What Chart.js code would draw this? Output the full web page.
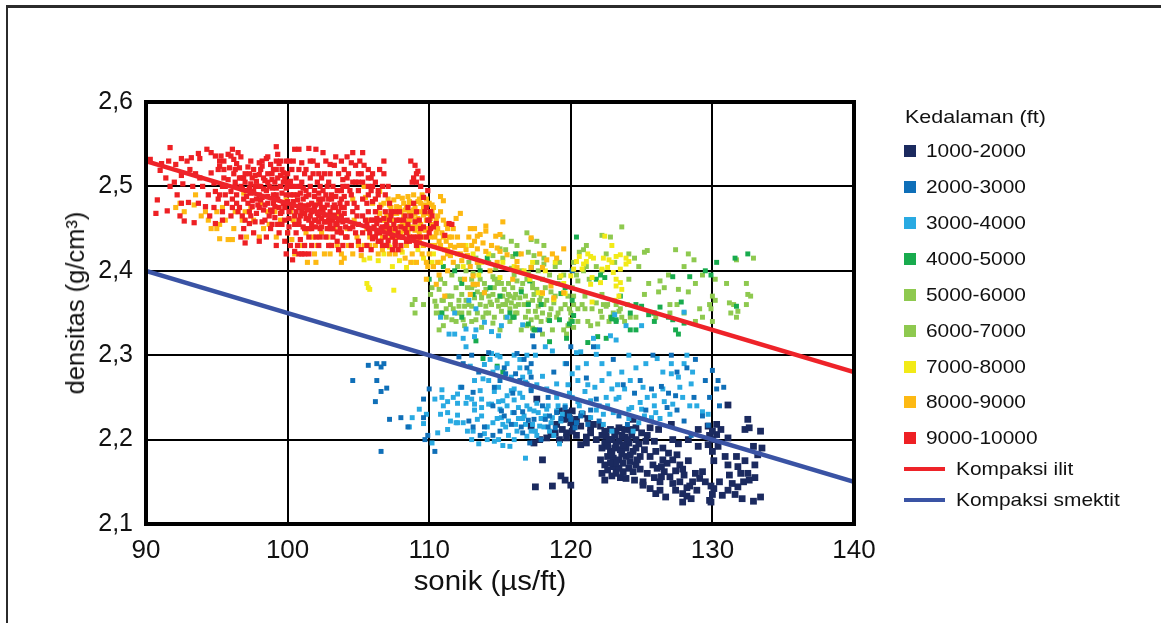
<!DOCTYPE html>
<html>
<head>
<meta charset="utf-8">
<title>Densitas vs sonik</title>
<script src="https://cdn.jsdelivr.net/npm/chart.js@4"></script>
<style>
  html, body { margin: 0; padding: 0; background: #fff; overflow: hidden; }
  #wrap { position: relative; width: 1161px; height: 623px; font-family: "Liberation Sans", Arial, sans-serif; color: #111; }
  #frame { position: absolute; left: 6px; top: 5px; right: 0; bottom: 0; border-top: 3px solid #2b2b2b; border-left: 2px solid #2b2b2b; }
  canvas { position: absolute; left: 0; top: 0; }
  .lg { position: absolute; font-size: 19px; line-height: 24px; white-space: nowrap; transform: scaleX(1.1); transform-origin: left center; }
  .sw { position: absolute; }
  .axt { position: absolute; white-space: nowrap; font-size: 27px; line-height: 32px; }
</style>
</head>
<body>
<div id="wrap">
  <div id="frame"></div>
  <canvas id="grafico" width="1161" height="623"></canvas>
  <div class="axt" id="judulX" style="left:490px;top:565px;transform:translateX(-50%) scaleX(1.09)">sonik (µs/ft)</div>
  <div class="axt" id="judulY" style="left:75px;top:303px;font-size:25.5px;transform:translate(-50%,-50%) rotate(-90deg)">densitas (g/cm³)</div>
</div>
<script>
const xTicks = [90, 100, 110, 120, 130, 140];
const yTicks = [2.1, 2.2, 2.3, 2.4, 2.5, 2.6];
const depthLabels = ["1000-2000", "2000-3000", "3000-4000", "4000-5000", "5000-6000", "6000-7000", "7000-8000", "8000-9000", "9000-10000"];
const lineLabels = ["Kompaksi ilit", "Kompaksi smektit"];
const ilitLine = [[90, 2.53], [140, 2.28]];
const smektitLine = [[90, 2.4], [140, 2.15]];

// [sonik, densitas]
const d1000 = [[117.5,2.144],[118.7,2.145],[119.3,2.157],[119.6,2.152],[120,2.146],[118,2.176],[117.4,2.196],[117.8,2.2],[118.3,2.202],[118.6,2.206],[117.2,2.216],[117.6,2.248],[119.2,2.234],[119.7,2.232],[120.1,2.234],[119.5,2.224],[120,2.22],[120.2,2.216],[119.4,2.212],[119.7,2.208],[120.1,2.21],[119.7,2.202],[120.7,2.194],[121.1,2.196],[121.1,2.203],[120.7,2.216],[121.4,2.214],[122.1,2.216],[122.8,2.212],[123.4,2.214],[123.8,2.212],[124.6,2.214],[124.4,2.224],[125.6,2.214],[126.2,2.212],[127.1,2.218],[129,2.212],[129.7,2.216],[130.3,2.218],[130.6,2.212],[130.3,2.206],[131.1,2.202],[131.1,2.241],[132.5,2.224],[132.3,2.212],[132.6,2.214],[133.4,2.21],
[122.5,2.204],[122.9,2.2],[122.4,2.196],[122.2,2.19],[122.8,2.186],[123.1,2.205],[123.4,2.198],[123.1,2.19],[123.5,2.188],[123.8,2.203],[124.1,2.196],[123.9,2.19],[124.4,2.186],[122.6,2.18],[123,2.178],[123.4,2.176],[123.9,2.18],[124.2,2.174],[124.6,2.2],[124.6,2.19],[124.9,2.18],[122.1,2.176],[122.4,2.17],[122.6,2.164],[123,2.168],[123.4,2.166],[123.7,2.162],[124.1,2.166],[124.6,2.17],[122.2,2.16],[122.9,2.157],[123.5,2.155],[124.5,2.152],[125.1,2.15],[125.4,2.16],[125.8,2.17],[126.1,2.166],[126.5,2.176],[126.9,2.184],[126.6,2.162],[127,2.156],[127.4,2.163],[127.7,2.17],[127.9,2.165],[128.3,2.175],[125.4,2.205],[125.9,2.198],[126.5,2.19],[127.2,2.2],[127.6,2.195],[128.3,2.2],[129,2.192],[129.7,2.194],[129.8,2.205],[130,2.186],[130.1,2.175],[125.1,2.146],[125.6,2.142],[126,2.136],[126.3,2.14],[126.7,2.132],[127.4,2.14],[127.9,2.136],[128.2,2.133],[128.5,2.13],[128.9,2.14],[128.6,2.15],[128.8,2.16],[129.1,2.154],[129.3,2.162],[129.5,2.15],[129.9,2.145],[130.1,2.142],[130,2.135],[129.8,2.128],[129.9,2.126],[130.7,2.134],[131.1,2.14],[131.4,2.148],[131.6,2.135],[132.1,2.13],[132.9,2.127],[133.4,2.132],[131.1,2.17],[131.8,2.168],[132,2.16],[131.2,2.158],[132.2,2.15],[132.6,2.152],[133,2.155],[132.5,2.16],[132.3,2.175],[133,2.17],[133.2,2.182],[132.9,2.192],[133.5,2.19],[131.7,2.18],[130.9,2.18],[128.2,2.143],[126.3,2.15],[127.9,2.126],[128.4,2.145],
[122.7,2.2],[123.2,2.195],[123.6,2.205],[124,2.2],[124.3,2.205],[122.6,2.192],[123.7,2.194],[124.8,2.195],[122.9,2.183],[123.6,2.183],[124.2,2.182],[124.7,2.176],[123.2,2.172],[123.7,2.172],[122.8,2.172],[124.4,2.162],[124.9,2.165],[123.2,2.16],[123.9,2.154],[122.4,2.152],[122.2,2.205],[121.8,2.2],[121.4,2.208],[120.4,2.224],[120.8,2.23],[121.2,2.225],[121.6,2.218],[122.4,2.21],[123.2,2.21],[124.2,2.212],[125,2.208],[125.3,2.198],[125.2,2.188],[125.6,2.18],[126,2.186],[126.8,2.172],[126.4,2.168],[127.2,2.176],[127.5,2.182],[125.9,2.155],[126.4,2.156],[127.2,2.148],[127.7,2.15],[128,2.158],[119.9,2.225],[119,2.218],[118.9,2.208],[119.2,2.2],[120.4,2.205],[130,2.21],[130,2.2],[130.4,2.192],[131.8,2.144],[130.5,2.15]];

const d2000 = [[105.7,2.288],[106.3,2.29],[106.6,2.286],[106.8,2.29],[104.6,2.27],[106.3,2.27],[106.6,2.257],[107,2.261],[106.2,2.245],[109.6,2.248],[110,2.26],[109.6,2.226],[107.2,2.224],[108,2.226],[108.5,2.215],[106.6,2.186],[109.9,2.205],[109.7,2.2],[110.4,2.186],[112.1,2.298],[112.4,2.29],[113,2.3],[113.5,2.28],[112.3,2.262],[113.1,2.256],[114.2,2.303],[115.4,2.278],[116.2,2.302],[117.2,2.29],[116.9,2.266],[116.1,2.278],[117.4,2.31],[115.9,2.255],[116.4,2.27],[114.5,2.24],[115.1,2.234],[116.6,2.233],[118,2.24],[118.8,2.28],[119.7,2.29],[120,2.31],[121.6,2.31],[123,2.295],[121.1,2.273],[123.7,2.265],[124.9,2.27],[125.7,2.26],[126.4,2.263],[126.9,2.255],[127.5,2.28],[128.8,2.295],[127.1,2.3],[128.2,2.285],[129.5,2.27],[129.8,2.25],[130,2.282],[130.4,2.27],[130.5,2.24],[130.8,2.262],[130.3,2.26],[129.3,2.228],[129.7,2.217],[128.5,2.205],[126.8,2.238],[127.5,2.235],[128,2.222],[125.3,2.235],[120,2.224],[120.4,2.22],[119,2.232],[118.2,2.224],[118.4,2.215],[117.9,2.2],[116,2.232],[115,2.21],[114.5,2.205],[113.6,2.205],[113.9,2.215],[115.8,2.218],[116.6,2.208],[117.1,2.196],[117.4,2.224],[119.9,2.228],[120.3,2.214],[121.2,2.218],[122,2.222],[118.9,2.214],[124,2.218],[120.1,2.4],[125.8,2.3],[117.3,2.323],[117.8,2.33],
[115.3,2.285],[115,2.27],[114.6,2.262],[116.9,2.285],[116.7,2.295],[117.2,2.274],[117.2,2.258],[118.4,2.25],[118.5,2.228],[119.3,2.225],[119.6,2.238],[120.7,2.228],[121.4,2.235],[117,2.223],[116.5,2.215],[115.3,2.228],[113.1,2.215],[112.8,2.222],[128.7,2.25],[127.4,2.252],[124.5,2.255],[123.4,2.228],[121.8,2.248]];

const d3000 = [[110.9,2.259],[110.4,2.248],[110.9,2.25],[111.3,2.245],[111.7,2.25],[112,2.243],[112.6,2.243],[113.2,2.242],[110.8,2.23],[111,2.24],[111.3,2.232],[112,2.229],[112,2.22],[112.4,2.22],[113,2.248],[113.7,2.238],[114.2,2.242],[114.5,2.22],[113.4,2.224],[114.1,2.215],[113.9,2.207],[115,2.236],[115.5,2.24],[116,2.247],[116.3,2.238],[116.9,2.24],[117.6,2.243],[118.3,2.236],[114.4,2.242],[114.6,2.257],[115.2,2.246],[115.5,2.252],[116,2.26],[116.6,2.25],[115.1,2.226],[115.6,2.222],[116.3,2.225],[116.8,2.218],[117.2,2.21],[115.6,2.205],[116.2,2.21],[117.9,2.225],[118.1,2.215],[118.6,2.22],[119.3,2.222],[114.2,2.27],[114.5,2.28],[114.8,2.285],[113.8,2.272],[113.2,2.27],[113.9,2.289],[114.3,2.295],[112.9,2.287],[112.2,2.262],[115.8,2.274],[116.4,2.285],[117.1,2.28],[118,2.275],[119,2.266],[120.1,2.278],[120.5,2.27],[121,2.257],[121.7,2.262],[122.2,2.27],[122.7,2.278],[123.3,2.265],[123.8,2.26],[123.4,2.25],[122.6,2.24],[121.4,2.246],[122,2.24],[120.5,2.245],[124.3,2.238],[124.9,2.244],[125.4,2.25],[125.9,2.24],[126.3,2.225],[125.7,2.226],[126,2.232],[123.2,2.248],[122.3,2.23],[120.8,2.232],[121.4,2.226],[122.3,2.218],[124.1,2.225],[124.8,2.22],[126.5,2.28],[127.1,2.278],[127.6,2.274],[127.9,2.25],[128.4,2.24],[128.9,2.24],[129.7,2.23],[129.3,2.233],[128.2,2.3],[126.1,2.296],[124.1,2.3],[123.2,2.318],[122.8,2.323],[121.9,2.31],[120.7,2.304],[121.6,2.32],[120.4,2.303],[119.6,2.29],[118.7,2.305],[117.5,2.3],[116.9,2.3],[116,2.3],[115,2.298],[114.4,2.302],[112.6,2.31],[111.4,2.325],[112.6,2.331],[113.2,2.322],[114.4,2.328],[114.9,2.323],[113.3,2.33],[115.1,2.335],[116.6,2.336],[115.5,2.345],[113.9,2.339],[112.4,2.32],[111.8,2.325],[110.8,2.345],[112.8,2.365],[113.3,2.355],[111.8,2.35],[109.8,2.23],[109.6,2.219],[109.3,2.236],[108.6,2.215],[108.8,2.226],[110.2,2.196],[110.6,2.208],[111.3,2.212],[111.9,2.22],[112.7,2.21],[113,2.2],[113.5,2.195],[114.6,2.198],[115.2,2.193],[115.7,2.192],[116.8,2.178],[117.5,2.21],[118.4,2.24],[119.1,2.24],[119.6,2.24],[120.6,2.24],[122.9,2.21],[124.4,2.21],[125.2,2.228],[127.2,2.242],[128.5,2.266],[123.9,2.335],[125,2.335],[128,2.351],[123.1,2.348],[118.2,2.31],[119.9,2.255],[117.2,2.26],[118.3,2.26],[116.6,2.225],[118.8,2.205],[113.2,2.235],[115.4,2.215],[117.4,2.234],[121.8,2.301],[119.2,2.195],
[114.8,2.225],[115.2,2.218],[115.9,2.232],[116.1,2.218],[116.7,2.228],[117.1,2.236],[117.3,2.218],[117.7,2.232],[117.8,2.216],[118.2,2.228],[118.7,2.226],[119,2.234],[119.4,2.23],[118.5,2.21],[117.6,2.205],[116.9,2.204],[116,2.2],[114.9,2.2],[114.1,2.2],[113.1,2.21],[113.7,2.228],[114.9,2.245],[115.8,2.258],[116.4,2.255],[116.8,2.268],[117.6,2.265],[114.9,2.262],[113.6,2.258],[113.7,2.248],[112.7,2.25],[112,2.254],[111.5,2.222],[121.2,2.265],[122.9,2.26],[124.2,2.27],[125.1,2.262],[125.9,2.252],[126.6,2.245],[127,2.23],[126.5,2.26],[127.7,2.262],[128.6,2.28],[128,2.29],[127.1,2.29],[123.6,2.28],[124.6,2.285],[125.3,2.29],[122.2,2.29],[121.1,2.29],[120.5,2.285],[119.8,2.265],[121.8,2.235],[123,2.232],[124.1,2.236],[125,2.236],[120.1,2.25],[119,2.25],[116.4,2.295],[115.5,2.29],[114.8,2.3],[116.6,2.274],[122.5,2.25]];

const d4000 = [[113.8,2.296],[114.8,2.287],[115.2,2.28],[117.5,2.33],[117,2.337],[116,2.345],[113.3,2.317],[112.3,2.345],[110.9,2.35],[115.7,2.35],[115.9,2.345],[117.4,2.33],[119.7,2.32],[121.2,2.315],[120.2,2.347],[119.9,2.337],[120.1,2.34],[119.2,2.342],[118.5,2.341],[117,2.36],[116.5,2.375],[117.9,2.36],[115,2.37],[114.3,2.38],[113.1,2.372],[112.3,2.385],[111.8,2.4],[113.6,2.4],[116.1,2.42],[114.1,2.415],[117.1,2.388],[117.2,2.404],[119.3,2.373],[119.6,2.38],[120.4,2.44],[122.1,2.395],[122.4,2.392],[123.5,2.37],[124.6,2.36],[125,2.358],[125.5,2.348],[125.9,2.34],[124.6,2.33],[124.2,2.33],[123.2,2.34],[122.9,2.345],[122.5,2.32],[122.9,2.343],[124.2,2.35],[126.3,2.357],[126.9,2.345],[127.2,2.342],[128,2.338],[127.4,2.33],[127.6,2.325],[125.9,2.35],[127.8,2.363],[127.2,2.393],[128.4,2.393],[129.5,2.4],[129.9,2.395],[130.3,2.41],[131.6,2.415],[132.5,2.42],[131.7,2.358],[123.2,2.342],[121.9,2.322],[118.5,2.316],[121.8,2.39],[120.1,2.365],[110,2.39],[111,2.405]];

const d5000 = [[110.1,2.372],[110.2,2.38],[110.4,2.364],[110.7,2.378],[111.1,2.385],[111.5,2.36],[111.2,2.355],[111.6,2.37],[111.9,2.38],[112.1,2.365],[112.3,2.372],[112.5,2.358],[112.7,2.38],[113,2.39],[113.4,2.375],[113.6,2.36],[113.9,2.385],[114.2,2.37],[114.4,2.36],[114.6,2.38],[114.9,2.39],[115,2.37],[115.3,2.378],[115.5,2.365],[115.7,2.355],[115.9,2.38],[116.1,2.372],[116.3,2.36],[116.6,2.385],[116.8,2.37],[117,2.352],[117.3,2.365],[117.6,2.378],[117.7,2.358],[118,2.35],[118.3,2.365],[118.6,2.355],[118.9,2.37],[119.3,2.355],[119.6,2.36],[120,2.35],[120.2,2.37],[120.5,2.355],[110.8,2.35],[111.2,2.345],[111.6,2.342],[112,2.35],[112.4,2.342],[112.8,2.35],[113,2.34],[113.4,2.35],[113.8,2.345],[114.2,2.35],[114.6,2.345],[115.1,2.352],[115.4,2.345],[116.2,2.35],[116.8,2.345],[117.2,2.342],[117.6,2.345],[117.9,2.34],[118.4,2.342],[119,2.345],[119.5,2.33],[120,2.342],[120.5,2.34],[121,2.355],[121.5,2.355],[122.1,2.352],[122.5,2.358],[123,2.35],[123.5,2.355],[124,2.36],[123.2,2.36],[122.7,2.34],[121.4,2.335],[121.9,2.337],[123.8,2.34],[125.5,2.385],[124.1,2.39],[126.2,2.375],[125.8,2.35],[125.2,2.372],[126.6,2.38],[127,2.36],[127.5,2.36],[128,2.35],[129.1,2.355],[129.8,2.36],[130,2.37],[130.2,2.365],[131.2,2.362],[131.3,2.35],[131.7,2.345],[132.5,2.372],[132.7,2.37],[132.4,2.385],[132.4,2.36],[131.5,2.36],[131,2.385],[130.2,2.39],[128.8,2.385],[128.3,2.375],[127.6,2.378],[129.3,2.395],[129.9,2.355],[129.3,2.345],[128.8,2.34],[130,2.34],[131.8,2.352],[127,2.35],[126,2.345],[119.7,2.325],[118.7,2.33],[118,2.325],[117.3,2.332],[116.5,2.33],[115,2.33],[113.7,2.333],[112.5,2.335],[111,2.335],[110.7,2.33],[109.6,2.36],[108.8,2.36],[109,2.366],[109,2.35],[111,2.365],[113.1,2.397],[113.6,2.39],[114.5,2.393],[116,2.395],[117,2.397],[118,2.39],[119.2,2.392],[120.4,2.395],[121.3,2.39],[120.9,2.425],[120.6,2.422],[122.2,2.442],[122.8,2.44],[120.2,2.41],[121.1,2.405],[122.2,2.4],[119.2,2.41],[118.1,2.415],[117.4,2.418],[117,2.422],[116.3,2.42],[115.9,2.417],[115.2,2.415],[114.5,2.418],[115.8,2.435],[115.2,2.44],[116.2,2.43],[116.9,2.445],[117.2,2.437],[117.6,2.435],[118.1,2.43],[115,2.426],[115.4,2.425],[117.6,2.41],[118.1,2.408],[118.9,2.405],[113.3,2.415],[114.2,2.41],[112.8,2.41],[112,2.405],[125.2,2.422],[125.4,2.424],[124.1,2.42],[123.1,2.41],[122.5,2.42],[124.5,2.415],[121.1,2.43],[123.6,2.452],[127.4,2.425],[128.3,2.42],[128.7,2.413],[131.7,2.413],[132.9,2.415],[126.9,2.395],[128,2.405],[126.3,2.388],[124.8,2.405],[122.2,2.372],[122.8,2.345],[122.3,2.36],[120.8,2.36],
[110.5,2.358],[110.9,2.365],[111.3,2.37],[111.7,2.355],[112.1,2.358],[112.3,2.35],[112.6,2.365],[113,2.358],[113.2,2.368],[113.7,2.368],[114,2.358],[114.3,2.363],[114.5,2.372],[114.8,2.365],[114.9,2.358],[115.2,2.37],[115.4,2.36],[115.6,2.372],[115.8,2.362],[116,2.368],[116.1,2.358],[116.4,2.368],[116.5,2.378],[116.7,2.36],[117,2.362],[117.4,2.372],[117.5,2.352],[117.8,2.365],[118.1,2.36],[118.5,2.348],[118.8,2.362],[119.1,2.35],[120.2,2.36],[119.9,2.355],[114.6,2.39],[115.6,2.385],[115.1,2.385],[116.2,2.388],[114,2.378],[113.2,2.383],[117.3,2.385],[119.8,2.335],[120.2,2.333],[121.2,2.34],[122.2,2.345],[123.6,2.345],[124.6,2.345],[111.9,2.34],[113.3,2.342],[114.5,2.338],[115.7,2.34],[116.9,2.335]];

const d6000 = [[112.2,2.39],[113,2.38],[113.7,2.372],[114.8,2.385],[115.7,2.37],[116.5,2.4],[117.3,2.38],[117.9,2.37],[118.6,2.375],[119.1,2.385],[119.8,2.37],[120.1,2.38],[121,2.37],[121.8,2.362],[122.6,2.36],[123.4,2.352],[124.2,2.345],[110.5,2.35],[111.4,2.37],[112.8,2.36],[114,2.35],[115.2,2.36],[116.1,2.35],[116.9,2.39],[118.2,2.38],[119.5,2.395],[110.8,2.39],[111.6,2.395],[112.6,2.4],[113.5,2.405],[114.7,2.403],[115.8,2.403],[117.7,2.4],[118.5,2.395],[120.5,2.388],[120.9,2.4],[121.8,2.405]];

const d7000 = [[105.6,2.385],[105.7,2.38],[105.8,2.378],[107.5,2.377],[105.4,2.413],[105.8,2.415],[106.4,2.412],[107.4,2.405],[107.9,2.412],[108.4,2.404],[108.9,2.41],[109.6,2.415],[110.3,2.42],[110.8,2.41],[111.3,2.425],[112,2.42],[112.6,2.43],[113.1,2.42],[113.7,2.41],[114.2,2.42],[115.2,2.41],[116,2.405],[116.7,2.4],[117.3,2.41],[118.2,2.4],[118.9,2.41],[119.3,2.394],[120,2.394],[119.5,2.385],[117.7,2.374],[118,2.373],[118.8,2.366],[119.6,2.373],[121.5,2.363],[115,2.392],[121.4,2.417],[121.1,2.411],[120.9,2.408],[121.6,2.415],[120.4,2.411],[120.2,2.402],[120.8,2.402],[122.3,2.415],[122.7,2.413],[123.2,2.417],[123.5,2.419],[123.9,2.415],[124.1,2.411],[123.9,2.408],[123.5,2.402],[122.6,2.404],[122.2,2.402],[123.2,2.39],[123.5,2.386],[123.2,2.382],[123.6,2.378],[123.4,2.37],[123.1,2.365],[121.5,2.392],[122.1,2.386],[121.4,2.384],[122.4,2.441],[122.9,2.43],[121.2,2.42],[120.6,2.417],[122.9,2.41],[123,2.398],[106.8,2.42],[107.2,2.428],[108.1,2.422],[109.2,2.425],[110.2,2.41],[112.4,2.405],[113.5,2.395],[117.1,2.39]];

const d8000 = [[92.4,2.48],[92.7,2.47],[93.4,2.478],[93.9,2.465],[94.4,2.46],[94.6,2.45],[95,2.47],[95.2,2.455],[95.6,2.46],[96.2,2.45],[96.8,2.46],[97.1,2.44],[96.1,2.437],[95.8,2.437],[95,2.45],[95.2,2.438],[97.6,2.46],[98,2.44],[98.3,2.45],[98.7,2.455],[99.2,2.44],[99.4,2.455],[100,2.445],[100.3,2.437],[100.5,2.42],[100.9,2.43],[101.4,2.41],[101.9,2.42],[102.1,2.43],[102.6,2.42],[103,2.42],[103.5,2.43],[104,2.415],[104.6,2.42],[105.2,2.418],[105.4,2.43],[105.8,2.44],[106.2,2.43],[106.7,2.44],[107.1,2.43],[107.3,2.44],[104.1,2.44],[104.9,2.44],[103.3,2.45],[102.4,2.445],[101.3,2.445],[100.4,2.46],[99.1,2.47],[98.1,2.48],[97,2.47],[101,2.476],[102.2,2.48],[103.6,2.468],[104.7,2.46],[105.7,2.46],[106.3,2.47],[106,2.48],[105.5,2.487],[106.5,2.494],[106.8,2.48],[105.4,2.5],[104.6,2.485],[100.5,2.49],[99.9,2.484],[96.9,2.492],[107.2,2.478],[107.5,2.47],[107.9,2.475],[108.2,2.48],[108.6,2.47],[109,2.475],[109.4,2.48],[109.8,2.485],[110.2,2.47],[107.4,2.45],[107.8,2.46],[108.2,2.455],[108.6,2.46],[109,2.46],[109.4,2.455],[109.8,2.46],[110.2,2.455],[110.6,2.465],[111,2.46],[107.3,2.445],[107.7,2.44],[108.1,2.44],[108.5,2.445],[108.9,2.44],[109.3,2.445],[109.7,2.44],[110.1,2.44],[110.5,2.445],[110.9,2.445],[111.3,2.45],[107.6,2.432],[108,2.425],[108.4,2.43],[108.8,2.42],[109.2,2.43],[109.6,2.43],[110,2.42],[110.4,2.43],[110.8,2.43],[111.2,2.435],[111.6,2.44],[112,2.44],[112.4,2.43],[112.8,2.44],[113.2,2.435],[111.3,2.42],[111.8,2.428],[112.2,2.42],[112.6,2.425],[113,2.43],[110.8,2.488],[111,2.483],[112.2,2.468],[111.9,2.462],[112.9,2.45],[113.2,2.45],[113.6,2.443],[114,2.453],[114,2.447],[115,2.443],[114.7,2.441],[115.2,2.458],[117.2,2.439],[113.4,2.441],[113.8,2.433],[114,2.423],[114.8,2.427],[115,2.423],[115.5,2.419],[116.2,2.411],[116.2,2.404],[119,2.415],[118.3,2.413],[118,2.404],[117.2,2.404],[119.5,2.426],[113.1,2.394],[113.1,2.384],[113.4,2.384],[112.5,2.39],[112.9,2.372],[113.9,2.374],[109.8,2.39],[110.5,2.384],[111.1,2.37],[115.9,2.39],[118,2.374],[119.5,2.374],[118.8,2.368],[118.6,2.382],[109.8,2.41],[110.3,2.405],[110.7,2.395],[111.3,2.4],[111.7,2.41],[112.3,2.412],[112.9,2.405],[113.4,2.41],[114.3,2.4],[114.8,2.41],[105.6,2.45],[106.1,2.45],[106.8,2.46],[104.2,2.45],[103.1,2.45],
[106.9,2.45],[107,2.465],[107.1,2.485],[107.3,2.475],[107.4,2.46],[107.5,2.484],[107.6,2.448],[107.7,2.468],[107.8,2.488],[107.9,2.452],[108,2.47],[108,2.445],[108.1,2.486],[108.2,2.465],[108.3,2.448],[108.4,2.476],[108.4,2.458],[108.5,2.488],[108.6,2.45],[108.7,2.48],[108.8,2.466],[108.8,2.452],[108.9,2.49],[109,2.468],[109.1,2.452],[109.2,2.482],[109.2,2.462],[109.3,2.436],[109.4,2.47],[109.5,2.49],[109.5,2.45],[109.6,2.466],[109.7,2.478],[109.8,2.45],[109.9,2.468],[110,2.48],[110,2.45],[110.1,2.43],[110.3,2.475],[110.4,2.44],[110.5,2.46],[110.6,2.45],[110.7,2.435],[110.8,2.47],[111,2.44],[111.1,2.425],[111.2,2.455],[111.4,2.44],[111.5,2.43],[111.7,2.45],[107.2,2.42],[107.6,2.42],[108.3,2.415],[108.7,2.41],[109.1,2.41],[109.5,2.42],[109.9,2.405],[110.6,2.41],[111,2.415],[111.5,2.418],[112.1,2.43],[112.7,2.418],[113.4,2.426],[103,2.43],[103.8,2.42],[104.3,2.43],[105,2.43],[105.8,2.43],[106.4,2.42],[106.7,2.425],[100.2,2.47],[99.5,2.46],[98.6,2.47],[97.4,2.475],[96.3,2.47],[95.4,2.475],[94.2,2.47],[93.5,2.49],[92.1,2.475],[101.8,2.44],[102.8,2.44],[102,2.41],[103.8,2.41],[116.5,2.42],[117.8,2.42],[118.7,2.42],[114.4,2.43],
[106.5,2.468],[106.6,2.478],[106.9,2.46],[107.1,2.452],[107.4,2.468],[107.7,2.476],[108.1,2.458],[108.3,2.472],[108.6,2.482],[108.9,2.472],[109.1,2.46],[109.3,2.485],[109.6,2.475],[109.7,2.448],[110.1,2.462],[110.4,2.452],[110.2,2.478],[109,2.448],[108.2,2.448],[107.5,2.44]];

const d9000 = [[90.3,2.532],[90.7,2.468],[90.8,2.484],[91.1,2.527],[91.5,2.471],[91.7,2.546],[91.6,2.53],[91.4,2.51],[91.7,2.5],[92.1,2.526],[92.5,2.533],[92.5,2.513],[92.6,2.503],[92.2,2.49],[92.5,2.48],[93.2,2.534],[92.4,2.465],[92.7,2.459],[93,2.481],[93.1,2.52],[93.3,2.5],[93.7,2.48],[93.7,2.539],[93.8,2.533],[93.4,2.457],[94.2,2.476],[94.4,2.49],[94.3,2.544],[94.6,2.54],[94.9,2.536],[94.9,2.456],[94.6,2.516],[94.8,2.504],[95.1,2.52],[95.3,2.536],[95.2,2.53],[95.5,2.53],[95.2,2.524],[95.5,2.52],[94.9,2.494],[95.1,2.485],[94.8,2.475],[95.4,2.47],[95.4,2.46],[95.8,2.538],[96,2.536],[96.2,2.532],[96.4,2.527],[96.1,2.544],[95.9,2.522],[96.2,2.515],[95.8,2.508],[96.3,2.505],[96,2.494],[96.4,2.49],[95.7,2.48],[96.1,2.475],[96.5,2.47],[96,2.465],[96.6,2.522],[96.9,2.51],[96.7,2.5],[97.1,2.495],[96.9,2.485],[97.2,2.48],[97.3,2.47],[96.8,2.465],[97.2,2.523],[97,2.515],[97.5,2.51],[97.7,2.5],[97.4,2.492],[97.8,2.485],[97.5,2.476],[97.8,2.468],[97.7,2.458],[97.3,2.456],[96.9,2.45],[96.7,2.44],[97,2.433],[98.1,2.52],[98.3,2.51],[98.1,2.5],[98.5,2.495],[98.2,2.487],[98.6,2.48],[98.3,2.472],[98.7,2.465],[98.2,2.458],[98.8,2.45],[98.5,2.44],[98,2.435],[98.8,2.526],[98.5,2.533],[98.2,2.53],[98.9,2.515],[99.1,2.505],[98.9,2.498],[99.2,2.49],[99,2.48],[99.4,2.475],[99.1,2.463],[99.3,2.455],[99.5,2.53],[99.3,2.538],[99.2,2.547],[99.6,2.52],[99.8,2.51],[99.5,2.5],[99.9,2.49],[99.7,2.48],[100.1,2.47],[99.8,2.46],[100.1,2.452],[100.35,2.413],[99.8,2.435],[100,2.445],[100.1,2.53],[100.5,2.544],[100.8,2.544],[100.3,2.52],[100.6,2.51],[100.3,2.5],[100.7,2.49],[100.4,2.482],[100.8,2.475],[100.5,2.465],[100.8,2.455],[100.6,2.445],[100.9,2.437],[100.7,2.43],[100.8,2.42],[100.5,2.423],[101,2.528],[101.2,2.515],[101,2.505],[101.3,2.495],[101.1,2.485],[101.5,2.478],[101.2,2.468],[101.5,2.46],[101.2,2.45],[101.5,2.44],[101.2,2.43],[101.5,2.42],[101.2,2.42],[101.5,2.545],[102,2.544],[101.8,2.53],[102.1,2.525],[101.8,2.515],[102.1,2.505],[101.9,2.495],[102.2,2.485],[101.9,2.475],[102.3,2.47],[102,2.46],[102.3,2.45],[102,2.44],[102.2,2.43],[102.5,2.54],[102.7,2.53],[103,2.526],[102.6,2.515],[102.9,2.505],[102.5,2.495],[102.9,2.485],[102.6,2.475],[103,2.465],[102.7,2.458],[103,2.45],[102.7,2.44],[103.1,2.43],[103.4,2.535],[103.8,2.53],[103.6,2.515],[103.9,2.508],[103.5,2.495],[103.8,2.485],[103.4,2.475],[103.8,2.465],[103.5,2.455],[103.8,2.445],[103.5,2.435],[103.6,2.425],[104.2,2.535],[104.6,2.54],[104.5,2.528],[104.3,2.515],[104.6,2.505],[104.2,2.5],[104.5,2.49],[104.2,2.48],[104.6,2.47],[104.2,2.46],[104.6,2.452],[104.2,2.44],[104.5,2.43],[105.1,2.53],[105.3,2.54],[105.4,2.525],[105,2.515],[105.3,2.505],[105,2.495],[105.3,2.485],[104.9,2.475],[105.3,2.465],[105,2.455],[105.3,2.445],[105,2.435],[105.2,2.425],[105.7,2.52],[105.9,2.51],[106,2.5],[105.7,2.49],[106,2.482],[105.7,2.47],[106,2.46],[105.7,2.45],[106,2.44],[106.4,2.495],[106.2,2.485],[106.5,2.475],[106.3,2.462],[106.6,2.45],[106.3,2.445],[106.6,2.435],[106.9,2.49],[107.2,2.48],[106.9,2.47],[107.2,2.46],[106.9,2.452],[107.2,2.445],[107,2.43],[107.4,2.425],[107.6,2.47],[107.9,2.46],[107.6,2.45],[107.9,2.44],[107.6,2.435],[108,2.43],[108.3,2.465],[108.5,2.475],[108.3,2.45],[108.6,2.44],[108.4,2.435],[108.7,2.53],[109,2.525],[109.1,2.515],[108.8,2.505],[109.2,2.518],[109.5,2.51],[109.4,2.5],[108.9,2.48],[109.1,2.47],[109.4,2.45],[109.2,2.44],[109.6,2.487],[109.8,2.475],[110,2.46],[110.1,2.45],[110.2,2.465],[110.3,2.452],[109.8,2.44],[110.1,2.47],[109.9,2.495],[110.5,2.456],[111.1,2.442],[111.4,2.456],[111.6,2.455],[108.9,2.51],[109.1,2.505],
[96.3,2.5],[96.7,2.51],[97.4,2.503],[98,2.49],[97.7,2.513],[98.6,2.505],[99.5,2.513],[100,2.505],[100.9,2.5],[101.6,2.5],[102.3,2.5],[103.1,2.49],[103.2,2.475],[102.2,2.465],[101.7,2.45],[100.2,2.49],[99.6,2.47],[98.9,2.47],[98,2.475],[104,2.475],[104.9,2.465],[106.2,2.47],[107.3,2.47],[105.5,2.46],[103.2,2.46],[102.4,2.475],[101.7,2.47],[100.9,2.465],[100,2.5],[103.9,2.5],[104.7,2.48],[105.6,2.48],[99.2,2.52],[97.9,2.5],[95.6,2.5],[96.1,2.485],[94.5,2.465],[94,2.5],[93.5,2.515],[92.9,2.53],[93.8,2.51],[91,2.519],[92,2.505],
[96.6,2.51],[96.8,2.497],[97,2.505],[97.1,2.488],[97.3,2.515],[97.3,2.498],[97.5,2.483],[97.6,2.52],[97.6,2.494],[97.8,2.506],[97.9,2.478],[98,2.514],[98.1,2.484],[98.2,2.524],[98.3,2.497],[98.4,2.507],[98.4,2.478],[98.6,2.515],[98.6,2.488],[98.7,2.5],[98.8,2.472],[98.9,2.508],[99,2.49],[99,2.52],[99.1,2.476],[99.2,2.498],[99.3,2.485],[99.3,2.51],[99.4,2.527],[99.5,2.468],[99.6,2.492],[99.7,2.505],[99.7,2.516],[99.8,2.475],[99.9,2.498],[100,2.482],[100,2.515],[100.1,2.462],[100.2,2.506],[100.3,2.475],[100.4,2.49],[100.5,2.455],[100.6,2.5],[100.6,2.47],[100.7,2.484],[100.8,2.46],[100.9,2.492],[100.9,2.478],[101,2.47],[101.1,2.452],[101.1,2.498],[101.2,2.477],[101.3,2.488],[101.3,2.462],[101.4,2.472],[101.5,2.45],[101.5,2.49],[101.6,2.465],[101.7,2.48],[101.7,2.456],[101.8,2.472],[101.9,2.488],[101.9,2.46],[102,2.478],[102,2.452],[102.1,2.468],[102.2,2.492],[102.2,2.458],[102.3,2.48],[102.4,2.462],[102.4,2.452],[102.5,2.485],[102.5,2.47],[102.6,2.458],[102.7,2.49],[102.7,2.466],[102.8,2.478],[102.8,2.45],[102.9,2.46],[103,2.47],[103,2.455],[103.1,2.485],[103.1,2.462],[103.2,2.45],[103.3,2.478],[103.3,2.466],[103.4,2.456],[103.4,2.488],[103.5,2.446],[103.6,2.47],[103.6,2.46],[103.7,2.48],[103.7,2.45],[103.8,2.475],[103.9,2.458],[104,2.468],[104,2.488],[104.1,2.452],[104.1,2.44],
[105.6,2.455],[105.8,2.445],[105.9,2.46],[106,2.438],[106.1,2.452],[106.2,2.44],[106.3,2.456],[106.4,2.435],[106.5,2.46],[106.5,2.445],[106.7,2.452],[106.7,2.43],[106.8,2.462],[106.9,2.44],[107,2.455],[107.1,2.436],[107.2,2.45],[107.3,2.465],[107.4,2.44],[107.5,2.455],[107.6,2.43],[107.7,2.46],[107.8,2.445],[107.9,2.47],[108,2.452],[108.1,2.44],[108.2,2.46],[108.4,2.445],[108.5,2.455],[108.6,2.435],[108.7,2.465],[108.8,2.45],[108.9,2.44],[109,2.458],[109.1,2.43],[109.3,2.46],[109.4,2.44],[109.6,2.452],[109.7,2.47],[109.9,2.46],[110,2.445],
[105.7,2.51],[106,2.515],[106.2,2.505],[106.5,2.52],[106.8,2.53],[106.8,2.515],[107.1,2.5],[106.4,2.49],[106.7,2.5],[105.9,2.495],[105.2,2.515],[104.8,2.525],[104,2.52],[103.3,2.525],[103,2.515],[102.4,2.51],[102.8,2.5],[101.6,2.51],[101.3,2.52],[100.8,2.52],[100.4,2.53],[99.9,2.53],[99.2,2.53],[98.6,2.535],[98,2.528],[97.4,2.53],[96.7,2.535],[96.3,2.52],[96.5,2.54],[103.8,2.495],[104.4,2.495],[104.8,2.505],[105,2.505],[105.7,2.5],[104.2,2.51],[103.2,2.5],[102.2,2.515],[101.6,2.53],
[95.6,2.49],[95.4,2.5],[95.2,2.49],[95.5,2.51],[96.4,2.48],[96.6,2.475],[97,2.46],[97.4,2.465],[97.6,2.445],[98.4,2.46],[98.9,2.455],[99.4,2.445],[99.6,2.455],[99.2,2.43],[99.9,2.42],[100.2,2.43],[101,2.42],[101.7,2.43],[102.3,2.44],[102.9,2.43],[103.2,2.44],[103.9,2.43],[104.4,2.45],[104.8,2.445],[105.6,2.43],[105.9,2.425],[107.8,2.425]];

// tiap seri: data, warna, ukuran titik, urutan gambar (kecil = di atas)
const pointSeries = [
  { data: d1000, color: "#1b2a5f", radius: 4.8, order: 7 },
  { data: d2000, color: "#0f6fb8", radius: 3.5, order: 5 },
  { data: d3000, color: "#29aae2", radius: 3.5, order: 6 },
  { data: d4000, color: "#18ab4e", radius: 3.5, order: 8 },
  { data: d5000, color: "#8ec94f", radius: 3.5, order: 9 },
  { data: d6000, color: "#8ec94f", radius: 3.5, order: 9 },
  { data: d7000, color: "#f2ea17", radius: 3.5, order: 4 },
  { data: d8000, color: "#fdb913", radius: 3.6, order: 3 },
  { data: d9000, color: "#ee2024", radius: 3.7, order: 2 }
];

const datasets = pointSeries.map((s, i) => ({
  type: 'scatter',
  label: depthLabels[i],
  data: s.data.map(p => ({ x: p[0], y: p[1] })),
  backgroundColor: s.color,
  pointStyle: 'rect',
  pointRadius: s.radius,
  pointBorderWidth: 0,
  order: s.order
}));

const trendLines = [
  { label: lineLabels[0], data: ilitLine, color: "#ee2329" },
  { label: lineLabels[1], data: smektitLine, color: "#3a53a4" }
];
trendLines.forEach(l => datasets.push({
  type: 'line',
  label: l.label,
  data: l.data.map(p => ({ x: p[0], y: p[1] })),
  borderColor: l.color,
  borderWidth: 4.5,
  pointRadius: 0,
  fill: false,
  order: 1
}));

new Chart(document.getElementById("grafico"), {
  data: { datasets: datasets },
  options: {
    responsive: false,
    animation: false,
    layout: { padding: { top: 102, right: 307, left: 0, bottom: 0 } },
    plugins: { legend: { display: false }, tooltip: { enabled: false } },
    scales: {
      x: {
        type: 'linear',
        min: 90,
        max: 140,
        afterBuildTicks: s => { s.ticks = xTicks.map(v => ({ value: v })); },
        afterFit: s => { s.height = 99; },
        grid: { color: "#000", lineWidth: 2, drawTicks: false },
        border: { display: false },
        ticks: { color: "#111", padding: 11, maxRotation: 0, font: { family: "Liberation Sans", size: 26 } }
      },
      y: {
        type: 'linear',
        min: 2.1,
        max: 2.6,
        afterBuildTicks: s => { s.ticks = yTicks.map(v => ({ value: v })); },
        afterFit: s => { s.width = 146; },
        grid: { color: "#000", lineWidth: 2, drawTicks: false },
        border: { display: false },
        ticks: { color: "#111", padding: 13, callback: v => v.toFixed(1).replace('.', ','), font: { family: "Liberation Sans", size: 25 } }
      }
    }
  },
  plugins: [{
    id: 'bingkai',
    afterDatasetsDraw(chart) {
      const a = chart.chartArea, c = chart.ctx;
      c.save();
      c.strokeStyle = "#000";
      c.lineWidth = 4;
      c.strokeRect(a.left, a.top, a.right - a.left, a.bottom - a.top);
      c.restore();
    }
  }]
});

// legenda di samping
const wrap = document.getElementById('wrap');
function addText(text, left, cy, sx) {
  const el = document.createElement('div');
  el.className = 'lg';
  el.textContent = text;
  el.style.left = left + 'px';
  el.style.top = (cy - 12) + 'px';
  if (sx) el.style.transform = `scaleX(${sx})`;
  wrap.appendChild(el);
}
function addSwatch(color, left, top, w, h) {
  const el = document.createElement('div');
  el.className = 'sw';
  el.style.cssText += `left:${left}px;top:${top}px;width:${w}px;height:${h}px;background:${color}`;
  wrap.appendChild(el);
}
addText("Kedalaman (ft)", 905, 117, 1.13);
const rowY = [151, 187, 223, 259, 295, 331, 367, 402, 438];
depthLabels.forEach((lbl, i) => {
  addSwatch(pointSeries[i].color, 904, rowY[i] - 6, 12, 12);
  addText(lbl, 926, rowY[i]);
});
trendLines.forEach((l, i) => {
  const cy = [469, 500][i];
  addSwatch(l.color, 904, cy - 2, 41, 4);
  addText(l.label, 956, cy);
});
</script>
</body>
</html>
